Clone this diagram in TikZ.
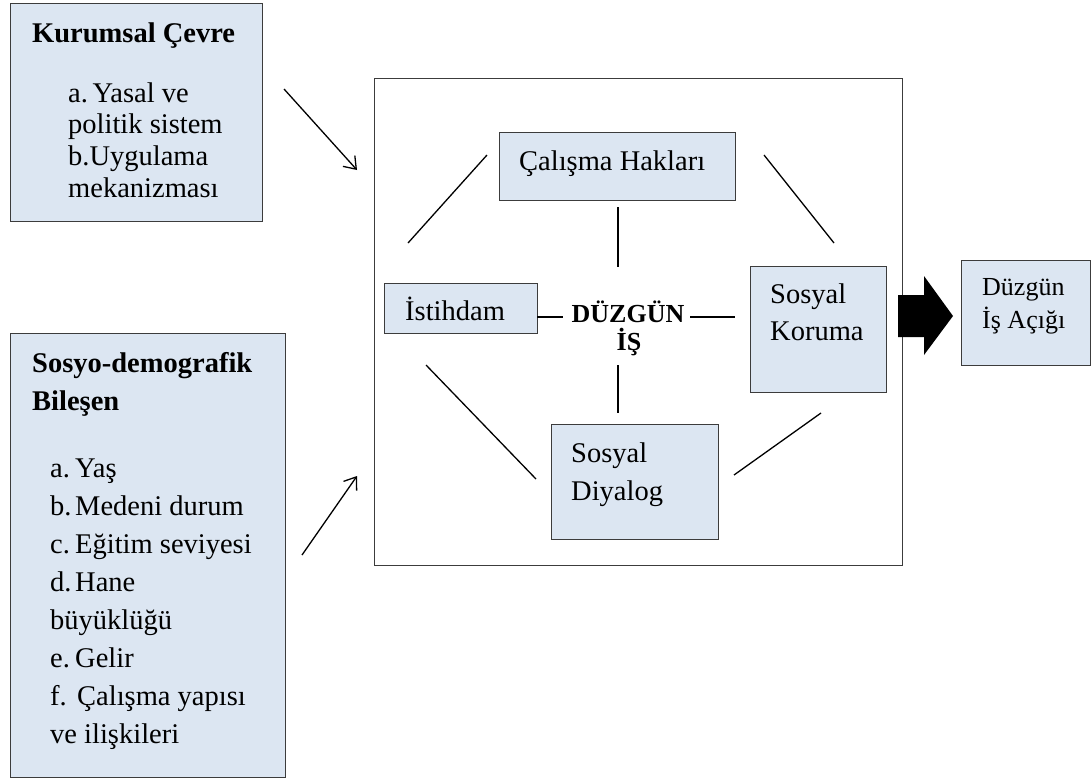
\documentclass[tikz,border=0pt]{standalone}
\usepackage{fontspec}
\setmainfont{Liberation Serif}
\usetikzlibrary{arrows.meta}
\definecolor{boxfill}{HTML}{DCE6F2}
\definecolor{boxline}{HTML}{3C3C3C}
\begin{document}
\begin{tikzpicture}[x=1pt,y=-1pt,
  box/.style={draw=boxline,line width=1pt,fill=boxfill,inner sep=0pt,outer sep=0pt},
  frame/.style={draw=boxline,line width=1pt,inner sep=0pt,outer sep=0pt},
  txt/.style={anchor=base west,inner sep=0pt,font=\fontsize{28.5pt}{34pt}\selectfont},
  btxt/.style={txt,font=\fontsize{28.5pt}{34pt}\selectfont\bfseries},
  stxt/.style={anchor=base west,inner sep=0pt,font=\fontsize{26pt}{30pt}\selectfont},
  ctr/.style={anchor=base,inner sep=0pt,font=\fontsize{26pt}{30pt}\selectfont\bfseries},
  link/.style={line width=1.3pt,black},
  arr/.style={line width=1.3pt,black,-{Straight Barb[length=11pt,width=16pt,line width=1.3pt]}}]
\useasboundingbox (0,0) rectangle (1092,780);
% boxes
\node[box,minimum width=252pt,minimum height=218pt] (kur) at (136,112) {};
\node[box,minimum width=275pt,minimum height=444pt] (sos) at (147.5,555) {};
\node[frame,minimum width=528pt,minimum height=487pt] (big) at (638,321.5) {};
\node[box,minimum width=236pt,minimum height=68pt] (cal) at (617,166) {};
\node[box,minimum width=153pt,minimum height=50pt] (ist) at (460.5,308) {};
\node[box,minimum width=136pt,minimum height=126pt] (kor) at (818,329) {};
\node[box,minimum width=167pt,minimum height=115pt] (diy) at (634.5,481.5) {};
\node[box,minimum width=129pt,minimum height=105pt] (acik) at (1025.5,312.5) {};
% Kurumsal texts
\node[btxt] (kt) at (32,42) {Kurumsal Çevre};
\node[txt] (k1) at (68,102) {a.\,Yasal ve};
\node[txt] (k2) at (68,133) {politik sistem};
\node[txt] (k3) at (68,165) {b.Uygulama};
\node[txt] (k4) at (68,197) {mekanizması};
% Sosyo texts
\node[btxt] (st1) at (32,372) {Sosyo-demografik};
\node[btxt] (st2) at (32,410) {Bileşen};
\node[txt] (sa) at (50,477) {a.};
\node[txt] (sat) at (75,477) {Yaş};
\node[txt] (sb) at (50,515) {b.};
\node[txt] (sbt) at (75,515) {Medeni durum};
\node[txt] (sc) at (50,553) {c.};
\node[txt] (sct) at (75,553) {Eğitim seviyesi};
\node[txt] (sd) at (50,591) {d.};
\node[txt] (sdt) at (75,591) {Hane};
\node[txt] (sd2) at (50,629) {büyüklüğü};
\node[txt] (se) at (50,667) {e.};
\node[txt] (set) at (75,667) {Gelir};
\node[txt] (sf) at (50,705) {f.};
\node[txt] (sft) at (77,705) {Çalışma yapısı};
\node[txt] (sf2) at (50,743) {ve ilişkileri};
% inner texts
\node[txt] (calt) at (519,170) {Çalışma Hakları};
\node[txt] (istt) at (405,320) {İstihdam};
\node[ctr] (dz1) at (628,322) {DÜZGÜN};
\node[ctr] (dz2) at (629,350) {İŞ};
\node[txt] (diy1) at (571,462) {Sosyal};
\node[txt] (diy2) at (571,500) {Diyalog};
\node[txt] (kor1) at (770,303) {Sosyal};
\node[txt] (kor2) at (770,340) {Koruma};
\node[stxt] (ac1) at (982,295) {Düzgün};
\node[stxt] (ac2) at (982,328) {İş Açığı};
% connector end points
\coordinate (h1a) at (537,317); \coordinate (h1b) at (563,317);
\coordinate (h2a) at (690,317); \coordinate (h2b) at (735,317);
\coordinate (v1a) at (618,207); \coordinate (v1b) at (618,267);
\coordinate (v2a) at (618,365); \coordinate (v2b) at (618,413);
\coordinate (d1a) at (408,243); \coordinate (d1b) at (487,155);
\coordinate (d2a) at (764,155); \coordinate (d2b) at (834,243);
\coordinate (d3a) at (426,365); \coordinate (d3b) at (536,479);
\coordinate (d4a) at (734,475); \coordinate (d4b) at (821,413);
\coordinate (a1a) at (284,89);  \coordinate (a1b) at (357,170);
\coordinate (a2a) at (302,555); \coordinate (a2b) at (357,476);
\draw[link] (h1a) -- (h1b);
\draw[link] (h2a) -- (h2b);
\draw[link] (v1a) -- (v1b);
\draw[link] (v2a) -- (v2b);
\draw[link] (d1a) -- (d1b);
\draw[link] (d2a) -- (d2b);
\draw[link] (d3a) -- (d3b);
\draw[link] (d4a) -- (d4b);
\draw[arr] (a1a) -- (a1b);
\draw[arr] (a2a) -- (a2b);
% block arrow
\fill[black] (898,295) -- (924,295) -- (924,276) -- (953,316) -- (924,355) -- (924,337) -- (898,337) -- cycle;
\end{tikzpicture}
\end{document}
